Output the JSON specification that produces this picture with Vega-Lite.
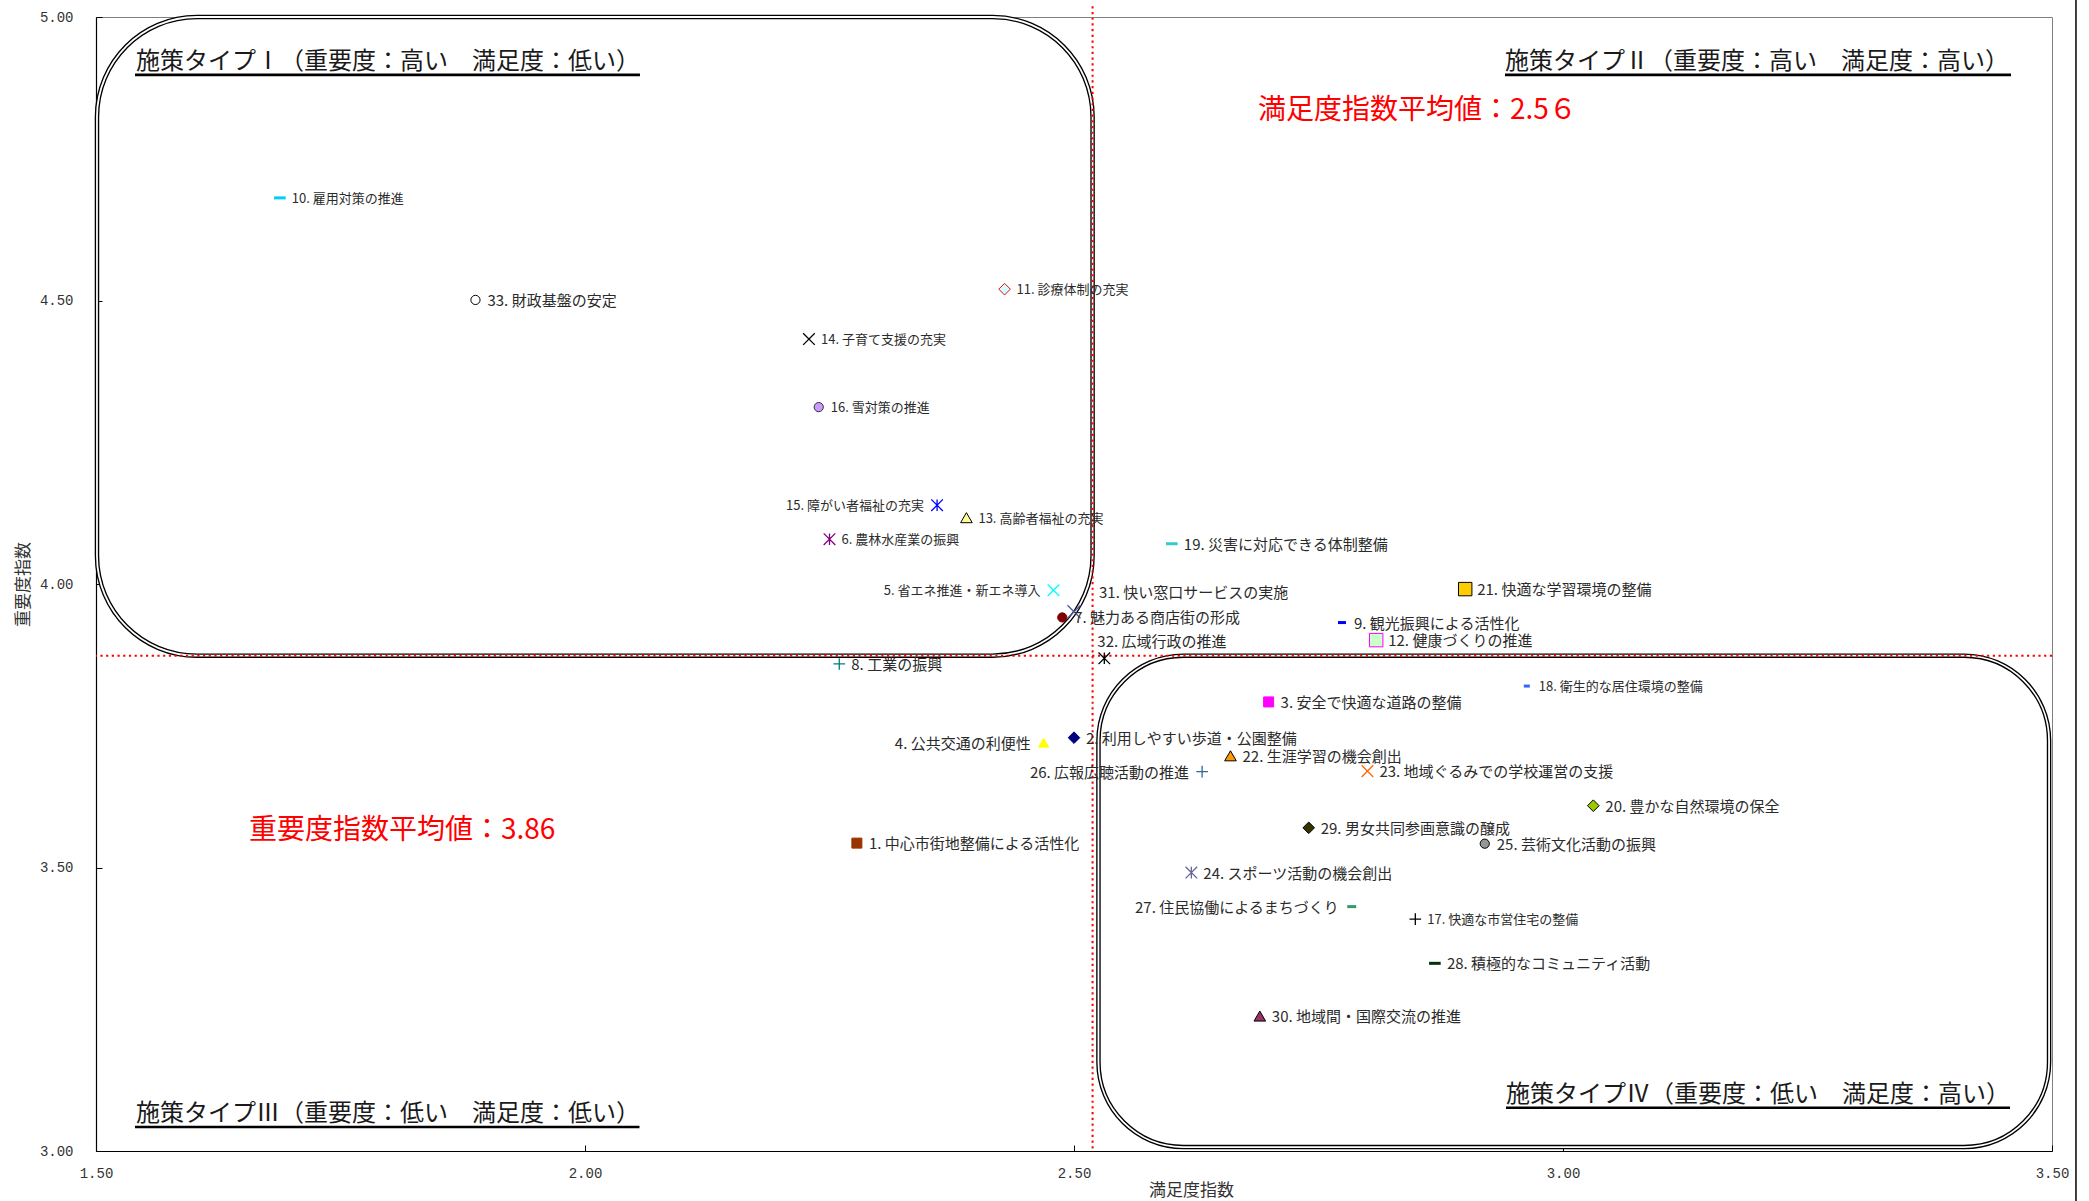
{
  "$schema": "https://vega.github.io/schema/vega-lite/v6.json",
  "width": 1956,
  "height": 1134,
  "autosize": {"type": "none"},
  "padding": {"left": 96, "top": 17, "right": 37, "bottom": 50},
  "background": "#FFFFFF",
  "config": {
    "view": {"stroke": "#808080", "strokeWidth": 1},
    "font": "Noto Sans CJK JP"
  },
  "datasets": {
    "points": [
      {"id": 1, "label": "1. 中心市街地整備による活性化", "sat": 2.278, "imp": 3.543},
      {"id": 2, "label": "2. 利用しやすい歩道・公園整備", "sat": 2.500, "imp": 3.729},
      {"id": 3, "label": "3. 安全で快適な道路の整備", "sat": 2.699, "imp": 3.792},
      {"id": 4, "label": "4. 公共交通の利便性", "sat": 2.469, "imp": 3.720},
      {"id": 5, "label": "5. 省エネ推進・新エネ導入", "sat": 2.479, "imp": 3.989},
      {"id": 6, "label": "6. 農林水産業の振興", "sat": 2.250, "imp": 4.079},
      {"id": 7, "label": "7. 魅力ある商店街の形成", "sat": 2.488, "imp": 3.941},
      {"id": 8, "label": "8. 工業の振興", "sat": 2.260, "imp": 3.859},
      {"id": 9, "label": "9. 観光振興による活性化", "sat": 2.774, "imp": 3.932},
      {"id": 10, "label": "10. 雇用対策の推進", "sat": 1.688, "imp": 4.681},
      {"id": 11, "label": "11. 診療体制の充実", "sat": 2.429, "imp": 4.520},
      {"id": 12, "label": "12. 健康づくりの推進", "sat": 2.809, "imp": 3.901},
      {"id": 13, "label": "13. 高齢者福祉の充実", "sat": 2.390, "imp": 4.117},
      {"id": 14, "label": "14. 子育て支援の充実", "sat": 2.229, "imp": 4.432},
      {"id": 15, "label": "15. 障がい者福祉の充実", "sat": 2.360, "imp": 4.139},
      {"id": 16, "label": "16. 雪対策の推進", "sat": 2.239, "imp": 4.312},
      {"id": 17, "label": "17. 快適な市営住宅の整備", "sat": 2.849, "imp": 3.409},
      {"id": 18, "label": "18. 衛生的な居住環境の整備", "sat": 2.963, "imp": 3.820},
      {"id": 19, "label": "19. 災害に対応できる体制整備", "sat": 2.600, "imp": 4.071},
      {"id": 20, "label": "20. 豊かな自然環境の保全", "sat": 3.031, "imp": 3.609},
      {"id": 21, "label": "21. 快適な学習環境の整備", "sat": 2.900, "imp": 3.991},
      {"id": 22, "label": "22. 生涯学習の機会創出", "sat": 2.660, "imp": 3.697},
      {"id": 23, "label": "23. 地域ぐるみでの学校運営の支援", "sat": 2.800, "imp": 3.670},
      {"id": 24, "label": "24. スポーツ活動の機会創出", "sat": 2.620, "imp": 3.491},
      {"id": 25, "label": "25. 芸術文化活動の振興", "sat": 2.920, "imp": 3.542},
      {"id": 26, "label": "26. 広報広聴活動の推進", "sat": 2.631, "imp": 3.669},
      {"id": 27, "label": "27. 住民協働によるまちづくり", "sat": 2.784, "imp": 3.431},
      {"id": 28, "label": "28. 積極的なコミュニティ活動", "sat": 2.869, "imp": 3.331},
      {"id": 29, "label": "29. 男女共同参画意識の醸成", "sat": 2.740, "imp": 3.570},
      {"id": 30, "label": "30. 地域間・国際交流の推進", "sat": 2.690, "imp": 3.238},
      {"id": 31, "label": "31. 快い窓口サービスの実施", "sat": 2.500, "imp": 3.951},
      {"id": 32, "label": "32. 広域行政の推進", "sat": 2.531, "imp": 3.869},
      {"id": 33, "label": "33. 財政基盤の安定", "sat": 1.888, "imp": 4.501}
    ],
    "avg": [{"sat": 2.519, "imp": 3.8736}],
    "boxes": [
      {"box": "I", "x1": 1.501, "x2": 2.519, "y1": 5.0, "y2": 3.8736},
      {"box": "IV", "x1": 2.525, "x2": 3.497, "y1": 3.8736, "y2": 3.007}
    ],
    "types": [
      {"text": "施策タイプⅠ（重要度：高い　満足度：低い）", "x": 1.5409, "y": 4.921},
      {"text": "施策タイプⅡ（重要度：高い　満足度：高い）", "x": 2.9407, "y": 4.921},
      {"text": "施策タイプⅢ（重要度：低い　満足度：低い）", "x": 1.5409, "y": 3.0653},
      {"text": "施策タイプⅣ（重要度：低い　満足度：高い）", "x": 2.9417, "y": 3.0988}
    ],
    "underlines": [
      {"x1": 1.5399, "x2": 2.0562, "y": 4.898},
      {"x1": 2.9407, "x2": 3.4581, "y": 4.898},
      {"x1": 1.5399, "x2": 2.0557, "y": 3.0423},
      {"x1": 2.9417, "x2": 3.4571, "y": 3.0764}
    ],
    "means": [
      {"text": "満足度指数平均値：2.5６", "x": 2.6881, "y": 4.835},
      {"text": "重要度指数平均値：3.86", "x": 1.6564, "y": 3.5644}
    ]
  },
  "layer": [
    {
      "data": {"name": "points"},
      "mark": {"type": "point", "filled": true, "opacity": 0},
      "encoding": {
        "x": {
          "field": "sat", "type": "quantitative",
          "scale": {"domain": [1.5, 3.5], "nice": false, "zero": false},
          "axis": {
            "values": [1.5, 2, 2.5, 3, 3.5], "format": ".2f", "grid": false,
            "domainColor": "#000000", "domainWidth": 1.2, "tickColor": "#000000", "tickSize": -6,
            "labelFont": "Liberation Mono", "labelFontSize": 14, "labelColor": "#333333", "labelPadding": 21,
            "labelFlush": false, "labelOverlap": false,
            "title": "満足度指数", "titleFont": "Noto Sans CJK JP", "titleFontSize": 17, "titleFontWeight": "normal",
            "titleColor": "#333333", "titleX": 1095, "titleY": 39, "titleAlign": "center", "titleBaseline": "middle"
          }
        },
        "y": {
          "field": "imp", "type": "quantitative",
          "scale": {"domain": [3, 5], "nice": false, "zero": false},
          "axis": {
            "values": [3, 3.5, 4, 4.5, 5], "format": ".2f", "grid": false,
            "domainColor": "#000000", "domainWidth": 1.2, "tickColor": "#000000", "tickSize": -6,
            "labelFont": "Liberation Mono", "labelFontSize": 14, "labelColor": "#333333", "labelPadding": 29,
            "labelFlush": false, "labelOverlap": false,
            "title": "重要度指数", "titleFont": "Noto Sans CJK JP", "titleFontSize": 17, "titleFontWeight": "normal",
            "titleColor": "#333333", "titleX": -73, "titleY": 567, "titleAngle": -90, "titleAlign": "center", "titleBaseline": "middle"
          }
        }
      }
    },
    {
      "data": {"name": "avg"},
      "mark": {"type": "rule", "color": "#000000", "strokeWidth": 1.5},
      "encoding": {
        "x": {"datum": 3.5245, "type": "quantitative", "scale": {"domain": [1.5, 3.5], "nice": false, "zero": false}},
        "y": {"datum": 5.03, "type": "quantitative", "scale": {"domain": [3, 5], "nice": false, "zero": false}},
        "y2": {"datum": 2.912}
      }
    },
    {
      "data": {"name": "boxes"},
      "transform": [{"filter": "datum.box == 'I'"}],
      "mark": {"type": "rect", "cornerRadius": 100, "filled": false, "stroke": "#000000", "strokeWidth": 4.5},
      "encoding": {
        "x": {"field": "x1", "type": "quantitative", "scale": {"domain": [1.5, 3.5], "nice": false, "zero": false}},
        "x2": {"field": "x2"},
        "y": {"field": "y1", "type": "quantitative", "scale": {"domain": [3, 5], "nice": false, "zero": false}},
        "y2": {"field": "y2"}
      }
    },
    {
      "data": {"name": "boxes"},
      "transform": [{"filter": "datum.box == 'I'"}],
      "mark": {"type": "rect", "cornerRadius": 100, "filled": false, "stroke": "#FFFFFF", "strokeWidth": 1.8},
      "encoding": {
        "x": {"field": "x1", "type": "quantitative", "scale": {"domain": [1.5, 3.5], "nice": false, "zero": false}},
        "x2": {"field": "x2"},
        "y": {"field": "y1", "type": "quantitative", "scale": {"domain": [3, 5], "nice": false, "zero": false}},
        "y2": {"field": "y2"}
      }
    },
    {
      "data": {"name": "boxes"},
      "transform": [{"filter": "datum.box == 'IV'"}],
      "mark": {"type": "rect", "cornerRadius": 85, "filled": false, "stroke": "#000000", "strokeWidth": 4.5},
      "encoding": {
        "x": {"field": "x1", "type": "quantitative", "scale": {"domain": [1.5, 3.5], "nice": false, "zero": false}},
        "x2": {"field": "x2"},
        "y": {"field": "y1", "type": "quantitative", "scale": {"domain": [3, 5], "nice": false, "zero": false}},
        "y2": {"field": "y2"}
      }
    },
    {
      "data": {"name": "boxes"},
      "transform": [{"filter": "datum.box == 'IV'"}],
      "mark": {"type": "rect", "cornerRadius": 85, "filled": false, "stroke": "#FFFFFF", "strokeWidth": 1.8},
      "encoding": {
        "x": {"field": "x1", "type": "quantitative", "scale": {"domain": [1.5, 3.5], "nice": false, "zero": false}},
        "x2": {"field": "x2"},
        "y": {"field": "y1", "type": "quantitative", "scale": {"domain": [3, 5], "nice": false, "zero": false}},
        "y2": {"field": "y2"}
      }
    },
    {
      "data": {"name": "avg"},
      "mark": {"type": "rule", "color": "#FF0000", "strokeWidth": 2, "strokeDash": [2.2, 3.5]},
      "encoding": {
        "x": {"field": "sat", "type": "quantitative", "scale": {"domain": [1.5, 3.5], "nice": false, "zero": false}},
        "y": {"datum": 5.019, "type": "quantitative", "scale": {"domain": [3, 5], "nice": false, "zero": false}},
        "y2": {"datum": 3.0}
      }
    },
    {
      "data": {"name": "avg"},
      "mark": {"type": "rule", "color": "#FF0000", "strokeWidth": 2, "strokeDash": [2.2, 3.5]},
      "encoding": {
        "y": {"field": "imp", "type": "quantitative", "scale": {"domain": [3, 5], "nice": false, "zero": false}}
      }
    },
    {
      "data": {"name": "underlines"},
      "mark": {"type": "rule", "color": "#000000", "strokeWidth": 2.6},
      "encoding": {
        "x": {"field": "x1", "type": "quantitative", "scale": {"domain": [1.5, 3.5], "nice": false, "zero": false}},
        "x2": {"field": "x2"},
        "y": {"field": "y", "type": "quantitative", "scale": {"domain": [3, 5], "nice": false, "zero": false}}
      }
    },
    {
      "data": {"name": "types"},
      "mark": {"type": "text", "align": "left", "baseline": "middle", "fontSize": 24, "font": "Noto Sans CJK JP", "color": "#1a1a1a"},
      "encoding": {
        "x": {"field": "x", "type": "quantitative", "scale": {"domain": [1.5, 3.5], "nice": false, "zero": false}},
        "y": {"field": "y", "type": "quantitative", "scale": {"domain": [3, 5], "nice": false, "zero": false}},
        "text": {"field": "text"}
      }
    },
    {
      "data": {"name": "means"},
      "mark": {"type": "text", "align": "left", "baseline": "middle", "fontSize": 28, "font": "Noto Sans CJK JP", "color": "#FF0000"},
      "encoding": {
        "x": {"field": "x", "type": "quantitative", "scale": {"domain": [1.5, 3.5], "nice": false, "zero": false}},
        "y": {"field": "y", "type": "quantitative", "scale": {"domain": [3, 5], "nice": false, "zero": false}},
        "text": {"field": "text"}
      }
    },
    {
      "data": {"name": "points"},
      "mark": {"type": "point", "filled": true, "opacity": 1},
      "encoding": {
        "x": {"field": "sat", "type": "quantitative", "scale": {"domain": [1.5, 3.5], "nice": false, "zero": false}},
        "y": {"field": "imp", "type": "quantitative", "scale": {"domain": [3, 5], "nice": false, "zero": false}},
        "shape": {
          "field": "id", "type": "nominal", "legend": null,
          "scale": {
            "domain": [1,2,3,4,5,6,7,8,9,10,11,12,13,14,15,16,17,18,19,20,21,22,23,24,25,26,27,28,29,30,31,32,33],
            "range": [
              "square", "diamond", "square", "triangle-up",
              "M-1,-1L1,1M-1,1L1,-1",
              "M-1,-1L1,1M-1,1L1,-1M0,-1L0,1",
              "circle",
              "M-1,0L1,0M0,-1L0,1",
              "M-1,0L1,0",
              "M-1,0L1,0",
              "diamond", "square", "triangle-up",
              "M-1,-1L1,1M-1,1L1,-1",
              "M-1,-1L1,1M-1,1L1,-1M0,-1L0,1",
              "circle",
              "M-1,0L1,0M0,-1L0,1",
              "M-1,0L1,0",
              "M-1,0L1,0",
              "diamond", "square", "triangle-up",
              "M-1,-1L1,1M-1,1L1,-1",
              "M-1,-1L1,1M-1,1L1,-1M0,-1L0,1",
              "circle",
              "M-1,0L1,0M0,-1L0,1",
              "M-1,0L1,0",
              "M-1,0L1,0",
              "diamond", "triangle-up",
              "M-1,-1L1,1M-1,1L1,-1",
              "M-1,-1L1,1M-1,1L1,-1M0,-1L0,1",
              "circle"
            ]
          }
        },
        "fill": {
          "field": "id", "type": "nominal", "legend": null,
          "scale": {
            "domain": [1,2,3,4,5,6,7,8,9,10,11,12,13,14,15,16,17,18,19,20,21,22,23,24,25,26,27,28,29,30,31,32,33],
            "range": [
              "#993300", "#000080", "#FF00FF", "#FFFF00", "transparent", "transparent", "#800000", "transparent",
              "transparent", "transparent", "#CCFFFF", "#CCFFCC", "#FFFF99", "transparent", "transparent", "#CC99FF",
              "transparent", "transparent", "transparent", "#99CC00", "#FFCC00", "#FF9900", "transparent", "transparent",
              "#969696", "transparent", "transparent", "transparent", "#333300", "#993366", "transparent", "transparent", "#FFFFFF"
            ]
          }
        },
        "stroke": {
          "field": "id", "type": "nominal", "legend": null,
          "scale": {
            "domain": [1,2,3,4,5,6,7,8,9,10,11,12,13,14,15,16,17,18,19,20,21,22,23,24,25,26,27,28,29,30,31,32,33],
            "range": [
              "#993300", "#000080", "#FF00FF", "#FFFF00", "#00FFFF", "#800080", "#800000", "#008080",
              "#0000FF", "#00CCFF", "#FF0000", "#FF00FF", "#000000", "#000000", "#0000FF", "#333333",
              "#000000", "#3366FF", "#33CCCC", "#000000", "#000000", "#000000", "#FF6600", "#666699",
              "#000000", "#336699", "#339966", "#003300", "#000000", "#000000", "#5555AA", "#000000", "#000000"
            ]
          }
        },
        "size": {
          "condition": [
            {"test": "indexof([12,21], datum.id) >= 0", "value": 180},
            {"test": "indexof([18], datum.id) >= 0", "value": 36},
            {"test": "indexof([9], datum.id) >= 0", "value": 64},
            {"test": "indexof([27], datum.id) >= 0", "value": 81},
            {"test": "indexof([7,16,25,33], datum.id) >= 0", "value": 85},
            {"test": "indexof([1,3,4], datum.id) >= 0", "value": 100},
            {"test": "indexof([31], datum.id) >= 0", "value": 170}
          ],
          "value": 135
        },
        "strokeWidth": {
          "condition": [
            {"test": "indexof([9,10,18,19,27,28], datum.id) >= 0", "value": 3},
            {"test": "indexof([5,6,8,14,15,17,23,24,26,31,32], datum.id) >= 0", "value": 1.3}
          ],
          "value": 1
        }
      }
    },
    {
      "data": {"name": "points"},
      "transform": [{"filter": "indexof([4,5,15,26,27,31,32], datum.id) < 0"}],
      "mark": {"type": "text", "align": "left", "baseline": "middle", "dx": 12, "dy": 1, "font": "Noto Sans CJK JP", "color": "#2b2b2b"},
      "encoding": {
        "x": {"field": "sat", "type": "quantitative", "scale": {"domain": [1.5, 3.5], "nice": false, "zero": false}},
        "y": {"field": "imp", "type": "quantitative", "scale": {"domain": [3, 5], "nice": false, "zero": false}},
        "text": {"field": "label"},
        "size": {"condition": {"test": "indexof([5,6,10,11,13,14,15,16,17,18], datum.id) >= 0", "value": 13}, "value": 15}
      }
    },
    {
      "data": {"name": "points"},
      "transform": [{"filter": "indexof([4,5,15,26,27], datum.id) >= 0"}],
      "mark": {"type": "text", "align": "right", "baseline": "middle", "dx": -13, "dy": 1, "font": "Noto Sans CJK JP", "color": "#2b2b2b"},
      "encoding": {
        "x": {"field": "sat", "type": "quantitative", "scale": {"domain": [1.5, 3.5], "nice": false, "zero": false}},
        "y": {"field": "imp", "type": "quantitative", "scale": {"domain": [3, 5], "nice": false, "zero": false}},
        "text": {"field": "label"},
        "size": {"condition": {"test": "indexof([5,6,10,11,13,14,15,16,17,18], datum.id) >= 0", "value": 13}, "value": 15}
      }
    },
    {
      "data": {"name": "points"},
      "transform": [{"filter": "datum.id == 31"}],
      "mark": {"type": "text", "align": "left", "baseline": "middle", "dx": 25, "dy": -19, "fontSize": 15, "font": "Noto Sans CJK JP", "color": "#2b2b2b"},
      "encoding": {
        "x": {"field": "sat", "type": "quantitative", "scale": {"domain": [1.5, 3.5], "nice": false, "zero": false}},
        "y": {"field": "imp", "type": "quantitative", "scale": {"domain": [3, 5], "nice": false, "zero": false}},
        "text": {"field": "label"}
      }
    },
    {
      "data": {"name": "points"},
      "transform": [{"filter": "datum.id == 32"}],
      "mark": {"type": "text", "align": "left", "baseline": "middle", "dx": -7, "dy": -16, "fontSize": 15, "font": "Noto Sans CJK JP", "color": "#2b2b2b"},
      "encoding": {
        "x": {"field": "sat", "type": "quantitative", "scale": {"domain": [1.5, 3.5], "nice": false, "zero": false}},
        "y": {"field": "imp", "type": "quantitative", "scale": {"domain": [3, 5], "nice": false, "zero": false}},
        "text": {"field": "label"}
      }
    }
  ]
}
